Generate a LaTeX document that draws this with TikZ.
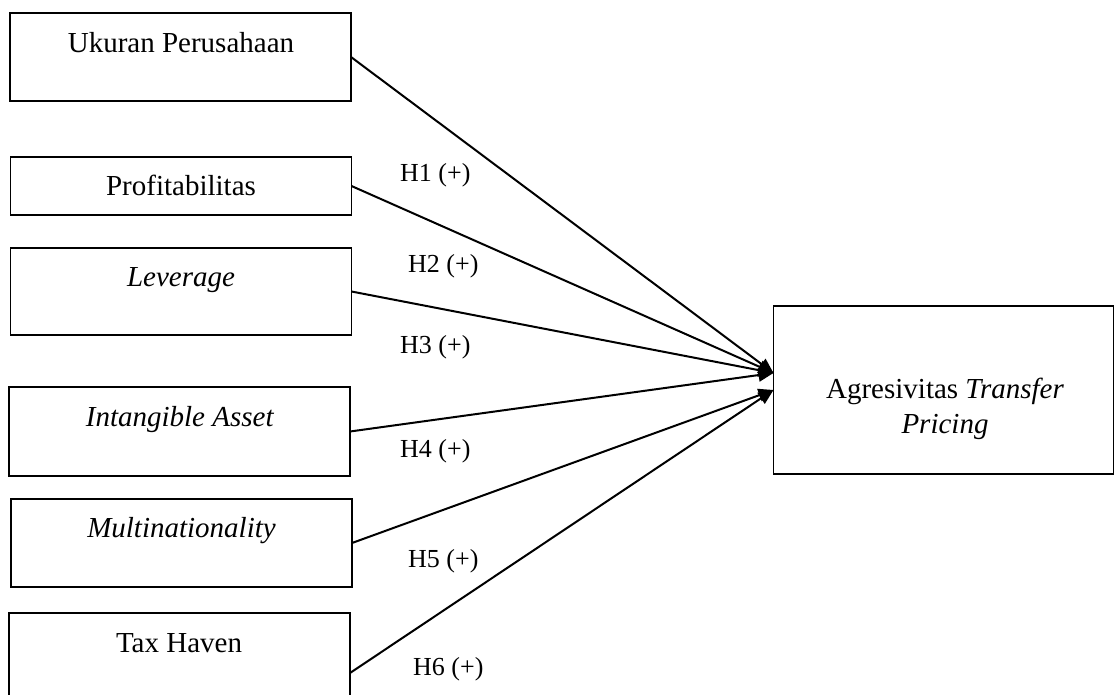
\documentclass[tikz,border=0pt]{standalone}
\usepackage{fontspec}
\setmainfont{Liberation Serif}
\usetikzlibrary{arrows.meta}
\begin{document}
\begin{tikzpicture}[x=1pt,y=-1pt,
  box/.style={draw,line width=1.8pt,inner sep=0pt,outer sep=0pt,minimum width=341pt},
  btxt/.style={font=\fontsize{29}{35}\selectfont,anchor=base,inner sep=0pt},
  hyp/.style={font=\fontsize{26}{30}\selectfont,anchor=base west,inner sep=0pt},
  link/.style={line width=2pt,-{Triangle[length=15pt,width=13pt]}}]
\useasboundingbox (0,0) rectangle (1115,695);
\clip (0,0) rectangle (1115,695);
% left boxes
\node[box,minimum height=88pt] (b1) at (180.5,57) {};
\node[box,minimum height=58pt] (b2) at (181,186) {};
\node[box,minimum height=87pt] (b3) at (181,291.5) {};
\node[box,minimum height=89pt] (b4) at (179.5,431.5) {};
\node[box,minimum height=88pt] (b5) at (181.5,543) {};
\node[box,minimum height=120pt] (b6) at (179.5,673) {};
% target box
\node[box,minimum width=340pt,minimum height=168pt] (tg) at (943.5,390) {};
% texts
\node[btxt] (t1) at (181,53) {Ukuran Perusahaan};
\node[btxt] (t2) at (181,195) {Profitabilitas};
\node[btxt] (t3) at (181,286) {\textit{Leverage}};
\node[btxt] (t4) at (180,426) {\textit{Intangible Asset}};
\node[btxt] (t5) at (181.5,537) {\textit{Multinationality}};
\node[btxt] (t6) at (179,652) {Tax Haven};
\node[btxt] (tt1) at (945,398) {Agresivitas \textit{Transfer}};
\node[btxt] (tt2) at (945,433) {\textit{Pricing}};
% arrow end points
\coordinate (ta) at ([yshift=17pt]tg.west);
\coordinate (tb) at (tg.west);
% connectors
\draw[link] (b1.east) -- (ta);
\draw[link] (b2.east) -- (ta);
\draw[link] (b3.east) -- (ta);
\draw[link] (b4.east) -- (ta);
\draw[link] (b5.east) -- (tb);
\draw[link] (b6.east) -- (tb);
% labels
\node[hyp] (h1) at (400,182) {H1 (+)};
\node[hyp] (h2) at (408,272) {H2 (+)};
\node[hyp] (h3) at (400,353) {H3 (+)};
\node[hyp] (h4) at (400,457) {H4 (+)};
\node[hyp] (h5) at (408,567) {H5 (+)};
\node[hyp] (h6) at (413,675) {H6 (+)};
\end{tikzpicture}
\end{document}
